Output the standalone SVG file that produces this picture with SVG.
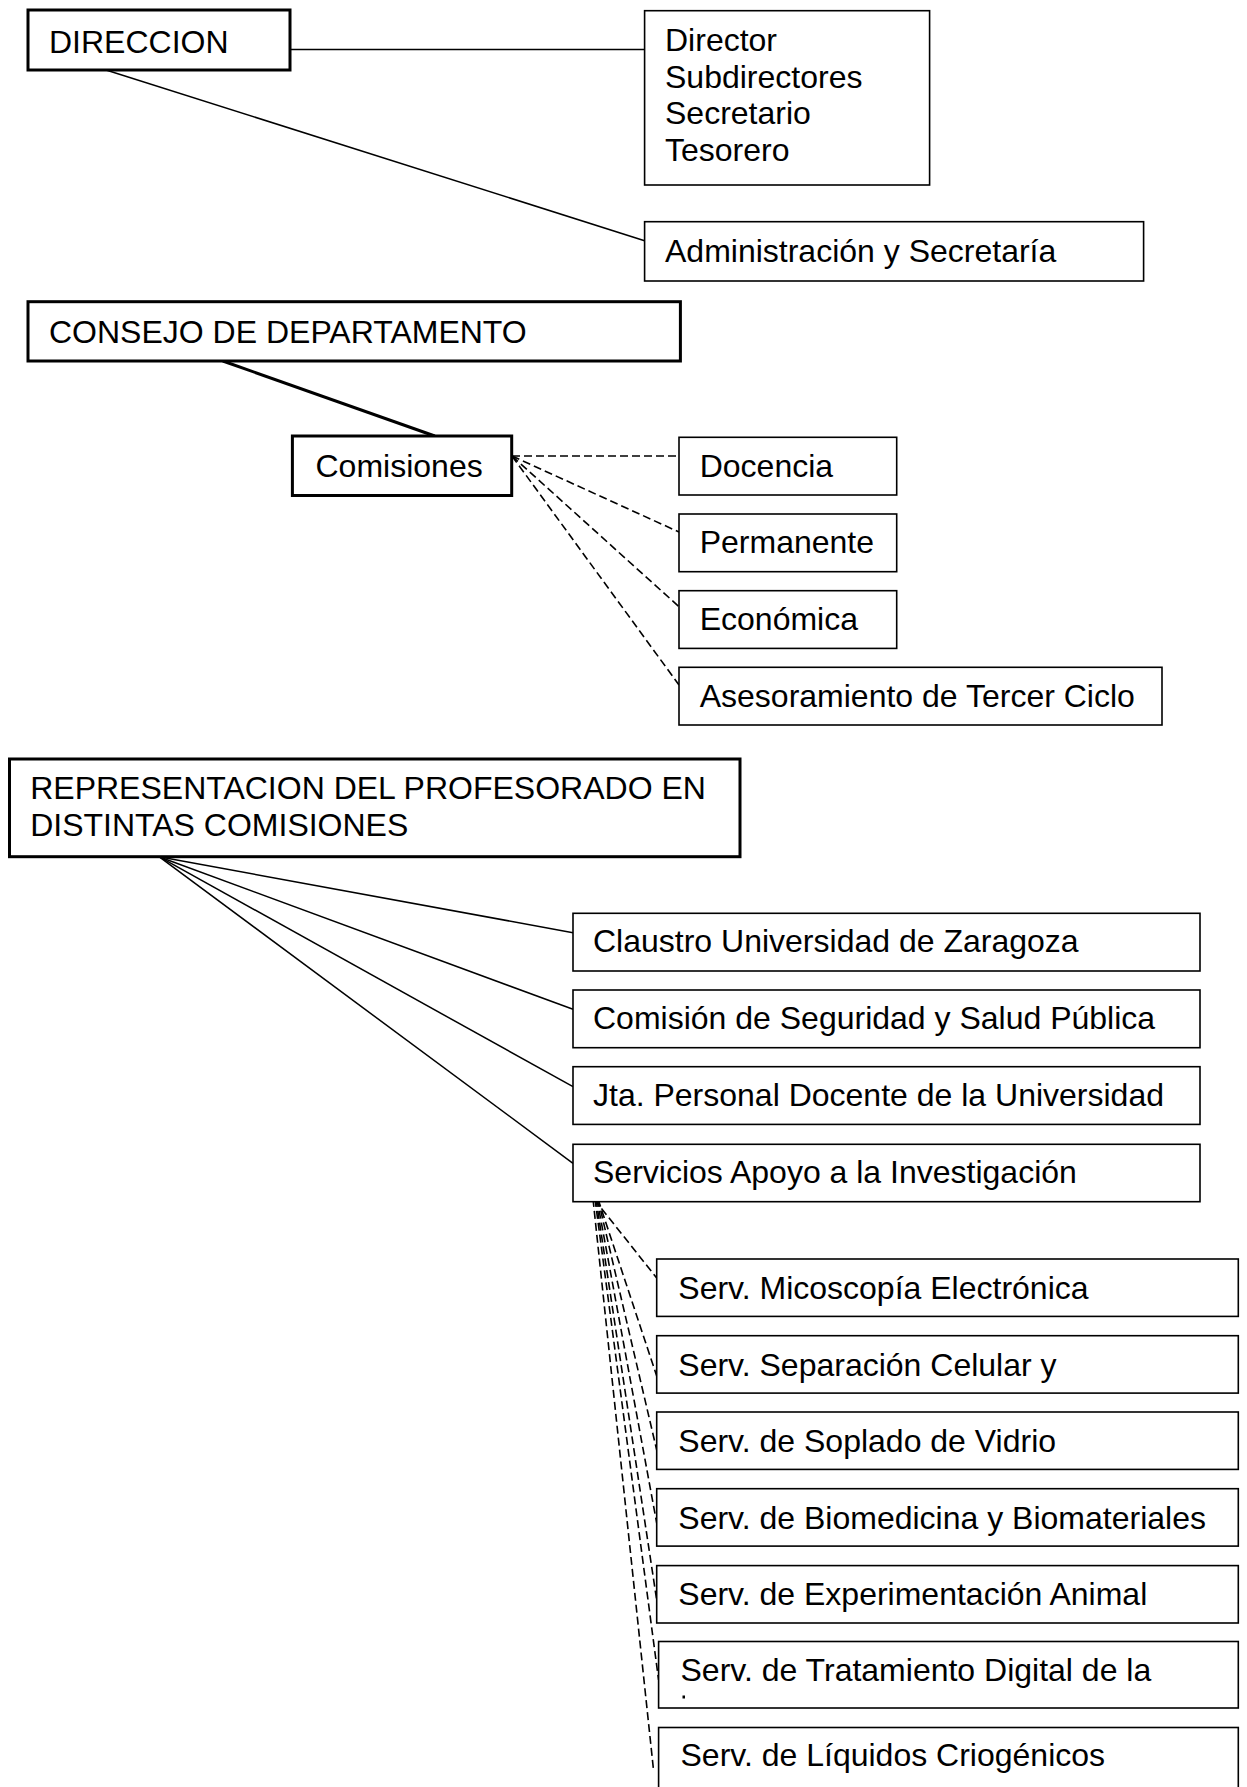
<svg xmlns="http://www.w3.org/2000/svg" width="1247" height="1787" viewBox="0 0 1247 1787">
<style>
  .bg{fill:#fff}
  .thick{fill:#fff;stroke:#000;stroke-width:3}
  .thin{fill:#fff;stroke:#000;stroke-width:1.6}
  .ln{stroke:#000;stroke-width:1.5;fill:none}
  .bold{stroke:#000;stroke-width:3;fill:none}
  .dash{stroke:#000;stroke-width:1.6;fill:none;stroke-dasharray:8 4}
  text{font-family:"Liberation Sans",Arial,sans-serif;font-size:32px;fill:#000}
</style>
<rect class="bg" x="0" y="0" width="1247" height="1787"/>
<g id="connectors">
  <line class="ln" x1="290" y1="49.5" x2="644.6" y2="49.5"/>
  <line class="ln" x1="106" y1="70" x2="644.6" y2="240.7"/>
  <line class="bold" x1="222.8" y1="361" x2="434.8" y2="436"/>
  <line class="dash" x1="512" y1="456" x2="679" y2="456"/>
  <line class="dash" x1="512" y1="456" x2="679" y2="532"/>
  <line class="dash" x1="512" y1="456" x2="679" y2="606.7"/>
  <line class="dash" x1="512" y1="456" x2="679" y2="685"/>
  <line class="ln" x1="159" y1="856.7" x2="573" y2="932.7"/>
  <line class="ln" x1="159" y1="856.7" x2="573" y2="1009.3"/>
  <line class="ln" x1="159" y1="856.7" x2="573" y2="1086.7"/>
  <line class="ln" x1="159" y1="856.7" x2="573" y2="1163.3"/>
  <line class="dash" x1="594" y1="1199" x2="656.7" y2="1278"/>
  <line class="dash" x1="598" y1="1199" x2="656.7" y2="1376"/>
  <line class="dash" x1="598" y1="1199" x2="656.7" y2="1450"/>
  <line class="dash" x1="597" y1="1199" x2="656.7" y2="1523"/>
  <line class="dash" x1="596" y1="1199" x2="656.7" y2="1600"/>
  <line class="dash" x1="595" y1="1199" x2="658.6" y2="1680"/>
  <line class="dash" x1="593" y1="1199" x2="653.3" y2="1768"/>
</g>
<g id="direccion">
  <rect class="thick" x="28" y="10" width="262" height="60"/>
  <text x="49" y="53">DIRECCION</text>
</g>
<g id="cargos">
  <rect class="thin" x="644.6" y="10.7" width="285" height="174.3"/>
  <text x="665" y="50.7">Director</text>
  <text x="665" y="87.5">Subdirectores</text>
  <text x="665" y="124.3">Secretario</text>
  <text x="665" y="161">Tesorero</text>
</g>
<g id="administracion">
  <rect class="thin" x="644.6" y="221.7" width="499" height="59.3"/>
  <text x="665" y="261.5">Administración y Secretaría</text>
</g>
<g id="consejo">
  <rect class="thick" x="28" y="301.7" width="652.4" height="59.3"/>
  <text x="49" y="343">CONSEJO DE DEPARTAMENTO</text>
</g>
<g id="comisiones">
  <rect class="thick" x="292.4" y="436" width="219.3" height="59.5"/>
  <text x="315.5" y="477.3">Comisiones</text>
</g>
<g id="docencia">
  <rect class="thin" x="679" y="437.3" width="217.7" height="57.7"/>
  <text x="699.7" y="476.5">Docencia</text>
</g>
<g id="permanente">
  <rect class="thin" x="679" y="514" width="217.7" height="57.7"/>
  <text x="699.7" y="553.2">Permanente</text>
</g>
<g id="economica">
  <rect class="thin" x="679" y="590.7" width="217.7" height="57.7"/>
  <text x="699.7" y="629.9">Económica</text>
</g>
<g id="asesoramiento">
  <rect class="thin" x="679" y="667.3" width="483" height="57.7"/>
  <text x="699.7" y="706.5">Asesoramiento de Tercer Ciclo</text>
</g>
<g id="representacion">
  <rect class="thick" x="9.5" y="759" width="730.5" height="97.7"/>
  <text x="30.2" y="799.3">REPRESENTACION DEL PROFESORADO EN</text>
  <text x="30.2" y="835.5">DISTINTAS COMISIONES</text>
</g>
<g id="claustro">
  <rect class="thin" x="573" y="913.3" width="627" height="57.7"/>
  <text x="593" y="952">Claustro Universidad de Zaragoza</text>
</g>
<g id="seguridad">
  <rect class="thin" x="573" y="990" width="627" height="57.7"/>
  <text x="593" y="1028.8">Comisión de Seguridad y Salud Pública</text>
</g>
<g id="junta">
  <rect class="thin" x="573" y="1066.7" width="627" height="57.7"/>
  <text x="593" y="1105.5">Jta. Personal Docente de la Universidad</text>
</g>
<g id="servicios">
  <rect class="thin" x="573" y="1144.3" width="627" height="57.4"/>
  <text x="593" y="1183">Servicios Apoyo a la Investigación</text>
</g>
<g id="microscopia">
  <rect class="thin" x="656.7" y="1259" width="581.6" height="57.4"/>
  <text x="678.3" y="1299">Serv. Micoscopía Electrónica</text>
</g>
<g id="separacion">
  <rect class="thin" x="656.7" y="1335.7" width="581.6" height="57.4"/>
  <text x="678.3" y="1375.6">Serv. Separación Celular y</text>
</g>
<g id="soplado">
  <rect class="thin" x="656.7" y="1412" width="581.6" height="57.4"/>
  <text x="678.3" y="1452">Serv. de Soplado de Vidrio</text>
</g>
<g id="biomedicina">
  <rect class="thin" x="656.7" y="1488.7" width="581.6" height="57.4"/>
  <text x="678.3" y="1528.5">Serv. de Biomedicina y Biomateriales</text>
</g>
<g id="experimentacion">
  <rect class="thin" x="656.7" y="1565.6" width="581.6" height="57.4"/>
  <text x="678.3" y="1605.4">Serv. de Experimentación Animal</text>
</g>
<g id="tratamiento">
  <rect class="thin" x="658.6" y="1641.5" width="579.7" height="66.5"/>
  <text x="680.5" y="1680.7">Serv. de Tratamiento Digital de la</text>
  <rect x="682.5" y="1695.5" width="2.5" height="3" fill="#000"/>
</g>
<g id="liquidos">
  <rect class="thin" x="658.6" y="1727.5" width="579.7" height="80"/>
  <text x="680.5" y="1766">Serv. de Líquidos Criogénicos</text>
</g>
</svg>
